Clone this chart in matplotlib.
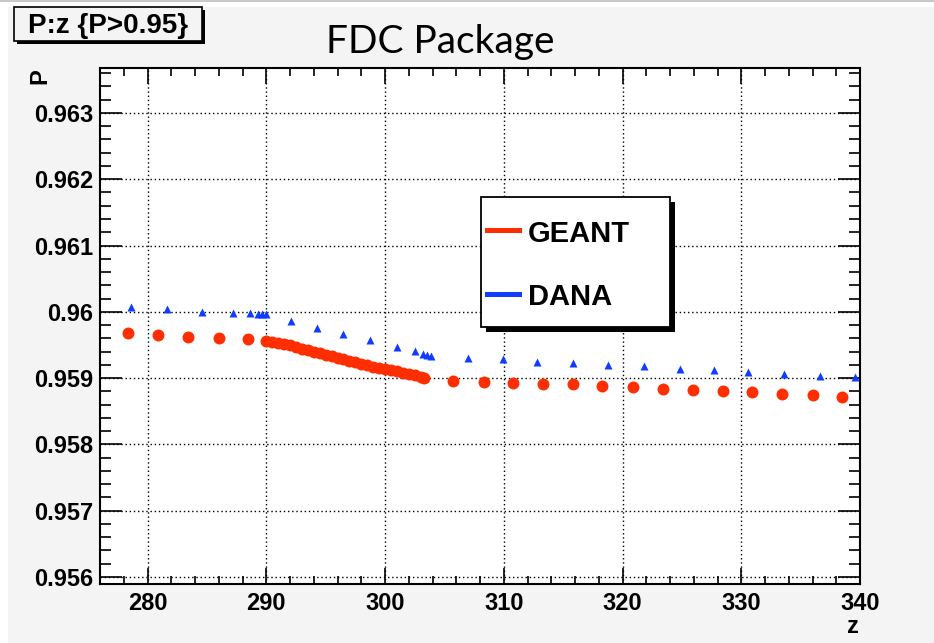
import matplotlib
matplotlib.use("Agg")
import matplotlib.pyplot as plt
from matplotlib.patches import Rectangle
from matplotlib.lines import Line2D
from matplotlib.ticker import MultipleLocator, FixedLocator

W, H = 934, 643

# values
geant_z = [278.4, 280.9, 283.4, 286.0, 288.5,
           290.0, 290.5, 291.0, 291.5, 292.0, 292.5, 293.0, 293.5, 294.0, 294.5,
           295.0, 295.5, 296.0, 296.5, 297.0, 297.5, 298.0, 298.5, 299.0, 299.5,
           300.0, 300.5, 301.0, 301.5, 302.0, 302.5, 303.0, 303.3,
           305.7, 308.3, 310.8, 313.3, 315.8, 318.3, 320.9, 323.4, 325.9, 328.5,
           330.9, 333.4, 336.0, 338.5]
geant_p = [0.959676, 0.959650, 0.959624, 0.959600, 0.959585,
           0.959565, 0.959552, 0.959535, 0.959517, 0.959499, 0.959473, 0.959445,
           0.959420, 0.959396, 0.959372, 0.959350, 0.959328, 0.959307, 0.959285,
           0.959261, 0.959237, 0.959215, 0.959193, 0.959172, 0.959154, 0.959137,
           0.959119, 0.959100, 0.959082, 0.959063, 0.959040, 0.959016, 0.959003,
           0.958961, 0.958946, 0.958931, 0.958907, 0.958907, 0.958885, 0.958861,
           0.958840, 0.958821, 0.958805, 0.958786, 0.958765, 0.958741, 0.958715]

dana_z = [278.6, 281.6, 284.6, 287.2, 288.6, 289.3, 289.6, 290.0,
          292.1, 294.3, 296.5, 298.7, 301.0, 302.5, 303.2, 303.5, 303.9,
          307.0, 309.9, 312.8, 315.8, 318.8, 321.8, 324.8, 327.7, 330.6,
          333.6, 336.6, 339.6]
dana_p = [0.960068, 0.960042, 0.960002, 0.959986, 0.959982, 0.959967, 0.959967,
          0.959967, 0.959861, 0.959760, 0.959661, 0.959575, 0.959469, 0.959409,
          0.959368, 0.959353, 0.959333, 0.959303, 0.959284, 0.959243, 0.959223,
          0.959202, 0.959183, 0.959142, 0.959118, 0.959097, 0.959057, 0.959036,
          0.959012]

series_names = ["GEANT", "DANA"]
red = "#ff2e00"
blue = "#0f3cff"

x_ticks = [280, 290, 300, 310, 320, 330, 340]
y_ticks = [0.956, 0.957, 0.958, 0.959, 0.960, 0.961, 0.962, 0.963]
y_labels = ["0.956", "0.957", "0.958", "0.959", "0.96", "0.961", "0.962", "0.963"]

bold = dict(family=["Liberation Sans", "DejaVu Sans"], fontweight="bold")


def fx(px):
    return px / W


def fy(py):
    return 1 - py / H


fig = plt.figure(figsize=(W / 100, H / 100), dpi=100, facecolor="white")
# canvas background + top strip
fig.add_artist(Rectangle((fx(8), 0), 1 - fx(8), fy(7), transform=fig.transFigure,
                         facecolor="#f4f4f4", edgecolor="none", zorder=0))
fig.add_artist(Rectangle((0, fy(2)), 1, 2 / H, transform=fig.transFigure,
                         facecolor="#c8c8c8", edgecolor="none", zorder=0))

ax = fig.add_axes([fx(100), fy(583.5), (860 - 100) / W, (583.5 - 68.3) / H])
ax.set_facecolor("white")

ax.plot(geant_z, geant_p, "o", color=red, ms=8.6, mec="none", zorder=3)
ax.plot(dana_z, dana_p, "^", color=blue, ms=5.6, mec="none", zorder=3)

ax.set_xlim(276, 340)
ax.set_ylim(0.955902, 0.963673)
ax.xaxis.set_major_locator(FixedLocator(x_ticks))
ax.xaxis.set_minor_locator(MultipleLocator(2))
ax.yaxis.set_major_locator(FixedLocator(y_ticks))
ax.yaxis.set_minor_locator(MultipleLocator(0.0002))
ax.set_yticklabels(y_labels)
ax.tick_params(which="both", direction="in", top=True, right=True, color="black", width=1.2)
ax.tick_params(axis="x", which="major", length=11.5, pad=6, labelsize=17)
ax.tick_params(axis="x", which="minor", length=5.5)
ax.tick_params(axis="y", which="major", length=16, pad=5, labelsize=17)
ax.tick_params(axis="y", which="minor", length=8)
for lab in ax.get_xticklabels() + ax.get_yticklabels():
    lab.set_fontfamily(bold["family"])
    lab.set_fontweight("bold")
ax.grid(True, which="major", color="black", linestyle=(0, (1, 2)), linewidth=1.0)
for s in ax.spines.values():
    s.set_linewidth(1.5)

# axis titles
fig.text(fx(40), fy(76), "P", rotation=90, ha="center", va="center", fontsize=17, **bold)
fig.text(fx(853), fy(633), "z", ha="center", va="baseline", fontsize=17, **bold)

# main title
fig.text(fx(440), fy(53), "FDC Package", ha="center", va="baseline", fontsize=28,
         family=["Lato", "DejaVu Sans"])

# stats-style title box
fig.add_artist(Rectangle((fx(17), fy(44)), (202 - 14) / W, (41 - 7) / H,
                         transform=fig.transFigure, facecolor="black", edgecolor="none", zorder=4))
fig.add_artist(Rectangle((fx(14), fy(41)), (202 - 14) / W, (41 - 7) / H,
                         transform=fig.transFigure, facecolor="#f4f4f4", edgecolor="black",
                         linewidth=1.2, zorder=5))
fig.text(fx(108), fy(33), "P:z {P>0.95}", ha="center", va="baseline", fontsize=20, zorder=6, **bold)

# legend
fig.add_artist(Rectangle((fx(486), fy(332)), (670 - 481) / W, (327 - 197) / H,
                         transform=fig.transFigure, facecolor="black", edgecolor="none", zorder=4))
fig.add_artist(Rectangle((fx(481), fy(327)), (670 - 481) / W, (327 - 197) / H,
                         transform=fig.transFigure, facecolor="white", edgecolor="black",
                         linewidth=1.3, zorder=5))
for name, col, ly, by in zip(series_names, [red, blue], [229.5, 294], [242, 305]):
    fig.add_artist(Line2D([fx(487), fx(519)], [fy(ly), fy(ly)], transform=fig.transFigure,
                          color=col, linewidth=3.6, zorder=6))
    fig.text(fx(528), fy(by), name, ha="left", va="baseline", fontsize=21, zorder=6, **bold)

fig.savefig("out.png", dpi=100, facecolor=fig.get_facecolor())
